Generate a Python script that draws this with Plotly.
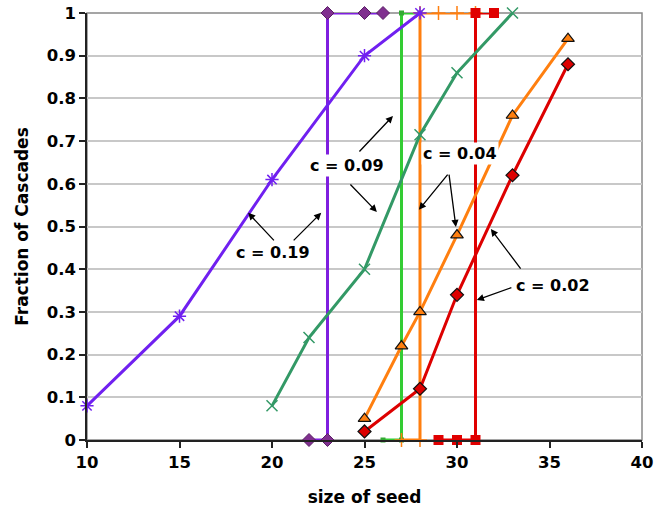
import plotly.graph_objects as go

# ---- data ----
c019_x = [10, 15, 20, 25, 28]
c019_y = [0.08, 0.29, 0.61, 0.90, 1.0]
c019_step_x = [22, 23, 23, 25, 26]
c019_step_y = [0, 0, 1, 1, 1]

c009_x = [20, 22, 25, 28, 30, 33]
c009_y = [0.08, 0.24, 0.40, 0.715, 0.86, 1.0]
c009_step_x = [26, 27, 27, 28]
c009_step_y = [0, 0, 1, 1]

c004_x = [25, 27, 28, 30, 33, 36]
c004_y = [0.05, 0.22, 0.30, 0.48, 0.76, 0.94]
c004_step_x = [27, 28, 28, 29, 30, 31]
c004_step_y = [0, 0, 1, 1, 1, 1]

c002_x = [25, 28, 30, 33, 36]
c002_y = [0.02, 0.12, 0.34, 0.62, 0.88]
c002_step_x = [29, 30, 31, 31, 32]
c002_step_y = [0, 0, 0, 1, 1]

x_ticks = [10, 15, 20, 25, 30, 35, 40]
y_ticks = [0, 0.1, 0.2, 0.3, 0.4, 0.5, 0.6, 0.7, 0.8, 0.9, 1]
y_tick_text = ["0", "0.1", "0.2", "0.3", "0.4", "0.5", "0.6", "0.7", "0.8", "0.9", "1"]

labels = ["c = 0.19", "c = 0.09", "c = 0.04", "c = 0.02"]

FONT = "DejaVu Sans"
fig = go.Figure()

LW = 3
# step curves
fig.add_trace(go.Scatter(x=c019_step_x, y=c019_step_y, mode="lines+markers", cliponaxis=False,
    line=dict(color="#7f1fdf", width=LW),
    marker=dict(symbol="diamond", size=10, color="#80308f", line=dict(color="#5a1f66", width=1))))
fig.add_trace(go.Scatter(x=c009_step_x, y=c009_step_y, mode="lines+markers", cliponaxis=False,
    line=dict(color="#33cc33", width=LW),
    marker=dict(symbol="square", size=5, color="#33aa33")))
fig.add_trace(go.Scatter(x=c004_step_x, y=c004_step_y, mode="lines+markers", cliponaxis=False,
    line=dict(color="#ff7f0f", width=LW),
    marker=dict(symbol="cross-thin-open", size=10, line=dict(color="#ff9933", width=1.5))))
fig.add_trace(go.Scatter(x=c002_step_x, y=c002_step_y, mode="lines+markers", cliponaxis=False,
    line=dict(color="#e00000", width=LW),
    marker=dict(symbol="square", size=10, color="#e00000")))

# smooth curves
fig.add_trace(go.Scatter(x=c019_x, y=c019_y, mode="lines+markers", cliponaxis=False,
    line=dict(color="#7020f0", width=LW),
    marker=dict(symbol="asterisk-open", size=11, line=dict(color="#8a6cf0", width=1.5))))
fig.add_trace(go.Scatter(x=c009_x, y=c009_y, mode="lines+markers", cliponaxis=False,
    line=dict(color="#339966", width=LW),
    marker=dict(symbol="x-thin-open", size=11, line=dict(color="#111111", width=1.5))))
fig.add_trace(go.Scatter(x=c004_x, y=c004_y, mode="lines+markers", cliponaxis=False,
    line=dict(color="#ff7f0f", width=LW),
    marker=dict(symbol="triangle-up", size=11, color="#ff7f0f", line=dict(color="#111111", width=1.2))))
fig.add_trace(go.Scatter(x=c002_x, y=c002_y, mode="lines+markers", cliponaxis=False,
    line=dict(color="#dd0000", width=LW),
    marker=dict(symbol="diamond", size=10, color="#dd0000", line=dict(color="#111111", width=1.2))))

# arrows (tail -> head) in data coordinates
arrows = [
    (20.18, 0.464, 18.71, 0.532),
    (21.09, 0.464, 22.66, 0.532),
    (24.65, 0.672, 26.54, 0.759),
    (24.16, 0.602, 25.67, 0.534),
    (29.56, 0.625, 27.94, 0.539),
    (29.56, 0.625, 29.94, 0.499),
    (33.50, 0.398, 31.83, 0.494),
    (33.02, 0.358, 31.07, 0.328),
]
for tx, ty, hx, hy in arrows:
    fig.add_annotation(x=hx, y=hy, ax=tx, ay=ty, xref="x", yref="y", axref="x", ayref="y",
                       text="", showarrow=True, arrowhead=2, arrowsize=1.1, arrowwidth=1.3,
                       arrowcolor="#000000", standoff=0, startstandoff=0)

label_pos = [(20.07, 0.438), (24.06, 0.642), (30.16, 0.672), (35.18, 0.363)]
for txt, (lx, ly) in zip(labels, label_pos):
    fig.add_annotation(x=lx, y=ly, xref="x", yref="y", text="<b>" + txt + "</b>", showarrow=False,
                       font=dict(family=FONT, size=16, color="#000000"),
                       bgcolor="#ffffff", borderpad=1)

fig.update_layout(
    width=669, height=509,
    margin=dict(l=87, r=27, t=13, b=69, autoexpand=False),
    paper_bgcolor="#ffffff", plot_bgcolor="#ffffff",
    showlegend=False,
    font=dict(family=FONT, size=16, color="#000000"),
)
fig.update_xaxes(range=[10, 40], tickvals=x_ticks, ticks="outside", ticklen=6, tickwidth=1.5,
                 tickcolor="#222222", showgrid=False, zeroline=False, automargin=False,
                 showline=True, linecolor="#222222", linewidth=1.5, mirror=False,
                 ticklabeloverflow="allow",
                 tickfont=dict(family=FONT, size=16.5, color="#000000", weight="bold"),
                 title=dict(text="<b>size of seed</b>", font=dict(family=FONT, size=17), standoff=21))
fig.update_yaxes(range=[0, 1], tickvals=y_ticks, ticktext=y_tick_text, ticks="outside", ticklen=6,
                 tickwidth=1.5, tickcolor="#222222", automargin=False,
                 showgrid=True, gridcolor="#c8c8c8", gridwidth=1.5, zeroline=False,
                 showline=True, linecolor="#222222", linewidth=1.5,
                 ticklabeloverflow="allow",
                 tickfont=dict(family=FONT, size=16.5, color="#000000", weight="bold"),
                 title=dict(text="<b>Fraction of Cascades</b>", font=dict(family=FONT, size=17), standoff=14))
# plot-area frame (top/right in gray)
fig.add_shape(type="rect", xref="paper", yref="paper", x0=0, y0=0, x1=1, y1=1,
              line=dict(color="#888888", width=1.5), layer="below")

# remove the browser's default 8px body margin so the figure fills the window
fig.write_html("out.html", config={"displayModeBar": False},
               post_script="document.body.style.margin='0';")
